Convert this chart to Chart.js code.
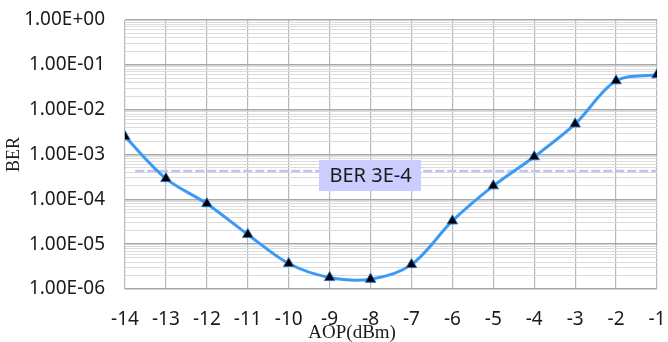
<!DOCTYPE html>
<html>
<head>
<meta charset="utf-8">
<script src="https://cdn.jsdelivr.net/npm/chart.js@4/dist/chart.umd.min.js"></script>
<style>
  html, body { margin: 0; padding: 0; background: #ffffff; }
  #wrap { width: 668px; height: 342px; position: relative; }
</style>
</head>
<body>
<div id="wrap"><canvas id="c" width="668" height="342"></canvas></div>
<script>
// ---- data ----
const aop = [-14, -13, -12, -11, -10, -9, -8, -7, -6, -5, -4, -3, -2, -1];
const ber = [2.5e-3, 2.9e-4, 8.0e-5, 1.65e-5, 3.7e-6, 1.8e-6, 1.65e-6, 3.5e-6, 3.3e-5, 2.0e-4, 8.9e-4, 4.8e-3, 4.4e-2, 6.0e-2];
const thresholdX = [-13.75, -1];
const thresholdY = [4.3e-4, 4.3e-4];
const thresholdLabel = 'BER 3E-4';
const thresholdLabelX = -8;
const yTickExps = [-6, -5, -4, -3, -2, -1, 0];
const yTickLabels = ['1.00E-06', '1.00E-05', '1.00E-04', '1.00E-03', '1.00E-02', '1.00E-01', '1.00E+00'];
const xTitle = 'AOP(dBm)';
const xTitleAt = -8.45;
const yTitle = 'BER';

const mainPoints = aop.map((x, i) => ({ x: x, y: ber[i] }));
const threshPoints = thresholdX.map((x, i) => ({ x: x, y: thresholdY[i] }));

function isDecade(v) {
  const l = Math.log10(v);
  return Math.abs(l - Math.round(l)) < 1e-9;
}

const labelPlugin = {
  id: 'thresholdLabel',
  afterDatasetsDraw(chart) {
    const ctx = chart.ctx;
    const xs = chart.scales.x, ys = chart.scales.y;
    const cx = xs.getPixelForValue(thresholdLabelX);
    const cy = ys.getPixelForValue(thresholdY[0]) + 4.5;
    ctx.save();
    ctx.font = '20px "Noto Sans"';
    const w = ctx.measureText(thresholdLabel).width;
    const bw = w + 20, bh = 31;
    ctx.fillStyle = '#ccccff';
    ctx.fillRect(Math.round(cx - bw / 2), Math.round(cy - bh / 2), Math.round(bw), bh);
    ctx.fillStyle = '#1a1a1a';
    ctx.textAlign = 'center';
    ctx.textBaseline = 'middle';
    ctx.fillText(thresholdLabel, cx, cy + 1);
    ctx.restore();
  },
  afterDraw(chart) {
    // x-axis title, placed left of centre as in the reference
    const ctx = chart.ctx;
    const xs = chart.scales.x;
    ctx.save();
    ctx.font = '19px "Liberation Serif"';
    ctx.fillStyle = '#1a1a1a';
    ctx.textAlign = 'center';
    ctx.textBaseline = 'middle';
    ctx.fillText(xTitle, xs.getPixelForValue(xTitleAt), xs.bottom - 9);
    ctx.restore();
  }
};

new Chart(document.getElementById('c'), {
  type: 'line',
  data: {
    datasets: [
      {
        data: threshPoints,
        borderColor: '#c4c4f2',
        borderWidth: 2.5,
        borderDash: [9, 3],
        pointRadius: 0,
        fill: false,
        tension: 0,
        order: 2
      },
      {
        data: mainPoints,
        borderColor: '#3a9af5',
        borderWidth: 3,
        tension: 0.33,
        pointStyle: 'triangle',
        pointRadius: 6,
        pointBackgroundColor: '#000000',
        pointBorderColor: '#2a6fc0',
        pointBorderWidth: 1,
        fill: false,
        order: 1
      }
    ]
  },
  options: {
    responsive: false,
    animation: false,
    devicePixelRatio: 1,
    layout: { padding: { top: 20, right: 11, left: 0, bottom: 0 } },
    plugins: {
      legend: { display: false },
      tooltip: { enabled: false }
    },
    scales: {
      x: {
        type: 'linear',
        min: -14,
        max: -1,
        afterBuildTicks(scale) {
          scale.ticks = aop.map(v => ({ value: v }));
        },
        afterFit(scale) {
          scale.height = 53;
          scale.paddingLeft = 0;
          scale.paddingRight = 0;
        },
        grid: { color: '#b8b8b8', lineWidth: 1.2, drawTicks: false },
        border: { display: false },
        ticks: {
          autoSkip: false,
          maxRotation: 0,
          padding: 19,
          color: '#1a1a1a',
          font: { family: '"Noto Sans"', size: 19 },
          callback: (v) => String(v)
        },
        title: { display: false }
      },
      y: {
        type: 'logarithmic',
        min: 1e-6,
        max: 1,
        afterBuildTicks(scale) {
          const t = [];
          for (let e = -6; e < 0; e++) {
            for (let s = 1; s < 10; s++) t.push({ value: s * Math.pow(10, e) });
          }
          t.push({ value: 1 });
          scale.ticks = t;
        },
        afterFit(scale) {
          scale.width = 125;
          scale.paddingTop = 0;
          scale.paddingBottom = 0;
        },
        grid: {
          drawTicks: false,
          color: (ctx) => (ctx.tick && isDecade(ctx.tick.value)) ? '#a8a8a8' : '#dcdcdc',
          lineWidth: (ctx) => (ctx.tick && isDecade(ctx.tick.value)) ? 1.5 : 1
        },
        border: { display: false },
        ticks: {
          autoSkip: false,
          padding: 20,
          color: '#1a1a1a',
          font: { family: '"Noto Sans"', size: 19 },
          callback: (v) => {
            if (!isDecade(v)) return '';
            const e = Math.round(Math.log10(v));
            const idx = yTickExps.indexOf(e);
            return idx >= 0 ? yTickLabels[idx] : '';
          }
        },
        title: {
          display: true,
          text: yTitle,
          color: '#1a1a1a',
          font: { family: '"Liberation Serif"', size: 18, lineHeight: 1 },
          padding: { top: 5, bottom: 0 }
        }
      }
    }
  },
  plugins: [labelPlugin]
});
</script>
</body>
</html>
